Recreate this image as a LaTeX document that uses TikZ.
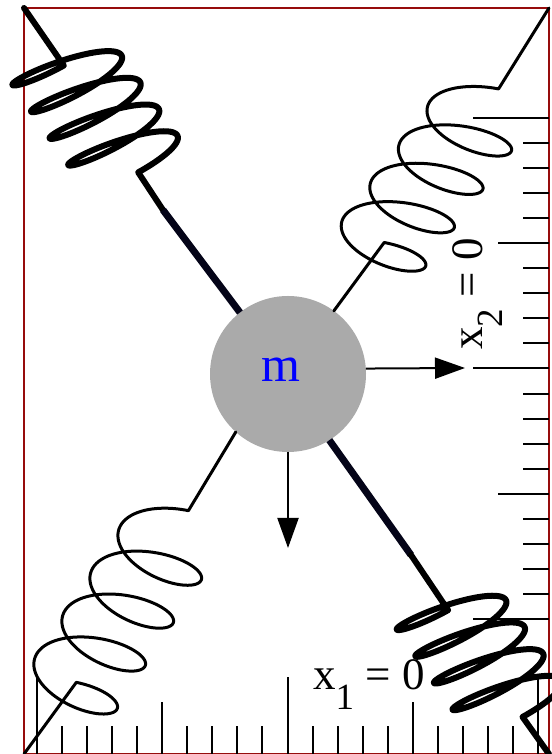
\documentclass[tikz,border=0pt]{standalone}
\usepackage{fontspec}
\setmainfont{Liberation Serif}
\usepackage{tikz}
\usetikzlibrary{arrows.meta}

\definecolor{framered}{RGB}{150,12,12}
\definecolor{massgray}{RGB}{170,170,170}
\definecolor{rodnavy}{RGB}{4,4,24}

\begin{document}
\begin{tikzpicture}[x=1pt,y=1pt,
    rulertick/.style={line width=2pt},
    heavyspring/.style={line width=6pt, line join=round, line cap=round},
    lightspring/.style={line width=3pt, line join=round, line cap=round},
    rod/.style={line width=7pt, rodnavy},
    push/.style={line width=2pt, -{Triangle[length=30pt,width=21pt]}}]
  \useasboundingbox (0,0) rectangle (551,754);
  % frame
  \draw[framered, line width=2pt] (24,0) rectangle (549,746);
  \coordinate (tl) at (24,746);
  \coordinate (tr) at (549,746);
  \coordinate (bl) at (24,0);
  \coordinate (br) at (549,0);
  % rulers
  \foreach \k in {0,10,20} {
    \draw[rulertick] ({37+25.05*\k},0) -- ++(0,77);
    \draw[rulertick] (549,{636-25.05*\k}) -- ++(-76,0);
  }
  \foreach \k in {5,15} {
    \draw[rulertick] ({37+25.05*\k},0) -- ++(0,52);
    \draw[rulertick] (549,{636-25.05*\k}) -- ++(-51,0);
  }
  \foreach \k in {1,2,3,4,6,7,8,9,11,12,13,14,16,17,18,19} {
    \draw[rulertick] ({37+25.05*\k},0) -- ++(0,28);
    \draw[rulertick] (549,{636-25.05*\k}) -- ++(-26,0);
  }
  \node[anchor=base west, inner sep=0, font=\fontsize{45}{45}\selectfont] (xone) at (313,64)
    {x\raisebox{-20pt}{\fontsize{37}{37}\selectfont 1} = 0};
  \node[anchor=base west, inner sep=0, rotate=90, font=\fontsize{45}{45}\selectfont] (xtwo) at (482,404)
    {x\raisebox{-20pt}{\fontsize{37}{37}\selectfont 2} = 0};
  % mass
  \node[circle, fill=massgray, minimum size=156pt, inner sep=0, outer sep=0] (ball) at (288,380) {};
  \coordinate (tlrod) at (163,544);
  \coordinate (brrod) at (411,199);
  % springs
  \draw[heavyspring] (tl) -- plot[domain=-90:1350, samples=361, smooth]
    ({12.5+2.96*rad(\x)-6.216*sin(\x)-49.75*(cos(\x)-1)}, {669-4.25*rad(\x)+8.925*sin(\x)-21.7*(cos(\x)-1)}) -- (tlrod);
  \draw[rod] (tlrod) -- (ball.128);
  \draw[rod] (ball.302.5) -- (brrod);
  \draw[heavyspring] (brrod) -- plot[domain=-90:1350, samples=361, smooth]
    ({396.8+2.96*rad(\x)-6.216*sin(\x)-49.75*(cos(\x)-1)}, {124.4-4.25*rad(\x)+8.925*sin(\x)-21.7*(cos(\x)-1)}) -- (br);
  \draw[lightspring] (tr) -- plot[domain=-270:1170, samples=361, smooth]
    ({510.8-4.55*rad(\x)+13.65*sin(\x)+47.35*(cos(\x)-1)}, {601.8-6.11*rad(\x)+18.33*sin(\x)-16.15*(cos(\x)-1)}) -- (ball.54);
  \draw[lightspring] (bl) -- plot[domain=-90:1350, samples=361, smooth]
    ({116.75+4.46*rad(\x)-13.38*sin(\x)+46.8*(cos(\x)-1)}, {44.4+6.83*rad(\x)-20.49*sin(\x)-17.5*(cos(\x)-1)}) -- (ball.228);
  \node[blue, anchor=base, inner sep=0, font=\fontsize{50}{50}\selectfont] (m) at (281,372) {m};
  % arrows
  \coordinate (xtip) at (465,386);
  \coordinate (ytip) at (288,206);
  \draw[push] (ball.4) -- (xtip);
  \draw[push] (ball.south) -- (ytip);
\end{tikzpicture}
\end{document}
